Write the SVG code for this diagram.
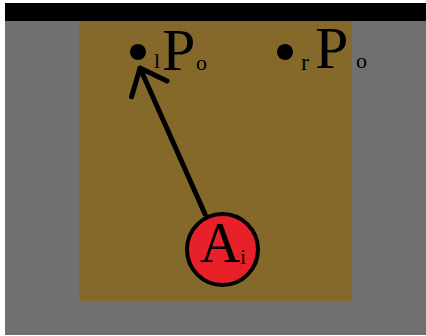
<svg xmlns="http://www.w3.org/2000/svg" width="426" height="336" viewBox="0 0 426 336">
<style>
.t{font-family:"Liberation Serif","Times New Roman",serif;fill:#000}
.ln{stroke:#000;stroke-width:5;fill:none;stroke-linecap:round;stroke-linejoin:round}
</style>
<rect x="0" y="0" width="426" height="336" fill="#fff"/>
<rect x="5" y="3" width="421" height="18" fill="#000"/>
<rect x="5" y="21" width="421" height="314" fill="#707070"/>
<rect x="79" y="21" width="273" height="280" fill="#85692A"/>
<g id="lPo">
<circle cx="138" cy="52" r="8" fill="#000"/>
<text class="t" font-size="22" x="154" y="68">l</text>
<text class="t" font-size="60" x="162" y="70">P</text>
<text class="t" font-size="22" x="196" y="70">o</text>
</g>
<g id="rPo">
<circle cx="285" cy="52" r="8" fill="#000"/>
<text class="t" font-size="24" x="301" y="70">r</text>
<text class="t" font-size="60" x="315" y="68">P</text>
<text class="t" font-size="22" x="356" y="68">o</text>
</g>
<g id="connectors">
<path class="ln" d="M205,214 L140,68 M131.6,96.8 L140,68 L167,81"/>
</g>
<g id="Ai">
<circle cx="222.5" cy="249.5" r="35.5" fill="#E8202A" stroke="#000" stroke-width="4"/>
<text class="t" font-size="56" x="200" y="262">A</text>
<text class="t" font-size="22" x="240" y="264">i</text>
</g>
</svg>
